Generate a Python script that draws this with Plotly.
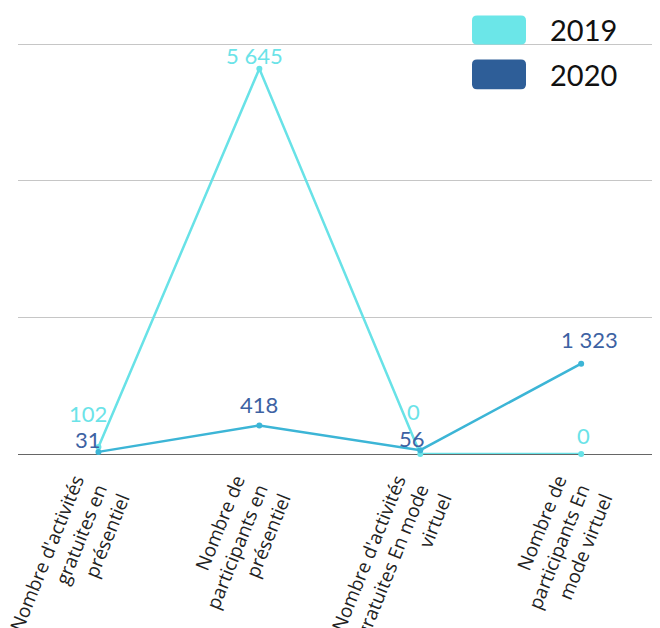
import plotly.graph_objects as go

categories = [
    "Nombre d'activités<br>gratuites en<br>présentiel",
    "Nombre de<br>participants en<br>présentiel",
    "Nombre d'activités<br>gratuites En mode<br>virtuel",
    "Nombre de<br>participants En<br>mode virtuel",
]
series_names = ["2019", "2020"]
values_2019 = [102, 5645, 0, 0]
values_2020 = [31, 418, 56, 1323]
y_ticks = [0, 2000, 4000, 6000]

line_colors = {"2019": "#68e2e7", "2020": "#3cb5d6"}
label_colors = {"2019": "#6be3e8", "2020": "#3d62a3"}
swatch_colors = {"2019": "#6be6e8", "2020": "#2e5e98"}
# label pixel offsets (style only)
label_shifts = {
    "2019": [(-10, 34), (-5, 13), (-7, 43), (2, 19)],
    "2020": [(-10, 12), (0, 21), (-8, 12), (8, 24)],
}

# page has an 8px body margin; figure sized so it fits the 660x628 window
OFF = 8
W, H = 660 - OFF, 628 - OFF
Y_TOP = 6050
PLOT_BOTTOM = 454 - OFF          # figure px of value 0
PX_PER_UNIT = 410 / 6000
ML, MR = 18 - OFF, 0
MB = H - PLOT_BOTTOM
MT = PLOT_BOTTOM - PX_PER_UNIT * Y_TOP

def fmt(v):
    return f"{v:,}".replace(",", " ")

fig = go.Figure()
xs = list(range(len(categories)))
for name, vals in [("2019", values_2019), ("2020", values_2020)]:
    fig.add_trace(go.Scatter(
        x=xs, y=vals, mode="lines+markers", name=name,
        line=dict(color=line_colors[name], width=2.5),
        marker=dict(color=line_colors[name], size=6),
        cliponaxis=False, showlegend=False, hoverinfo="skip",
    ))

annotations = []
for name, vals in [("2019", values_2019), ("2020", values_2020)]:
    for i, v in enumerate(vals):
        dx, dy = label_shifts[name][i]
        annotations.append(dict(
            x=xs[i], y=v, xref="x", yref="y", text=fmt(v), showarrow=False,
            xanchor="center", yanchor="middle", xshift=dx, yshift=dy,
            font=dict(family="Lato", size=22, color=label_colors[name]),
        ))

# manual legend (page pixel positions)
pw = W - ML - MR
ph = H - MT - MB
def px2paper(px, py):
    fx, fy = px - OFF, py - OFF
    return (fx - ML) / pw, (H - MB - fy) / ph

def rounded_rect(x0, y0, x1, y1, r):
    def P(x, y):
        a, b = px2paper(x, y)
        return f"{a:.5f},{b:.5f}"
    return (f"M {P(x0 + r, y0)} L {P(x1 - r, y0)} Q {P(x1, y0)} {P(x1, y0 + r)} "
            f"L {P(x1, y1 - r)} Q {P(x1, y1)} {P(x1 - r, y1)} "
            f"L {P(x0 + r, y1)} Q {P(x0, y1)} {P(x0, y1 - r)} "
            f"L {P(x0, y0 + r)} Q {P(x0, y0)} {P(x0 + r, y0)} Z")

shapes = []
legend_rows = [(15, 44), (59, 89)]
for name, (ty, by) in zip(series_names, legend_rows):
    shapes.append(dict(type="path", xref="paper", yref="paper",
                       path=rounded_rect(472, ty, 526, by, 5),
                       fillcolor=swatch_colors[name], line=dict(width=0)))
    tx, tyc = px2paper(548, (ty + by) / 2)
    annotations.append(dict(x=tx, y=tyc, xref="paper", yref="paper", text=name,
                            showarrow=False, xanchor="left", yanchor="middle",
                            font=dict(family="Lato", size=29, color="#111111")))

fig.update_layout(
    width=W, height=H,
    margin=dict(l=ML, r=MR, t=MT, b=MB, autoexpand=False),
    paper_bgcolor="white", plot_bgcolor="white",
    annotations=annotations, shapes=shapes,
    showlegend=False,
    xaxis=dict(
        tickmode="array", tickvals=xs, ticktext=categories,
        range=[-0.5, 3.49], tickangle=-68, showgrid=False, zeroline=False,
        showline=False, ticks="", automargin=False,
        ticklabeloverflow="allow", ticklabelstandoff=20,
        tickfont=dict(family="Open Sans", size=19, color="#222222"),
    ),
    yaxis=dict(
        range=[0, Y_TOP], tickvals=y_ticks, showticklabels=False,
        showgrid=True, gridcolor="#c6c6c6", gridwidth=1,
        zeroline=True, zerolinecolor="#666666", zerolinewidth=1.2,
        showline=False, ticks="", automargin=False,
    ),
)

fig.write_html("out.html")
